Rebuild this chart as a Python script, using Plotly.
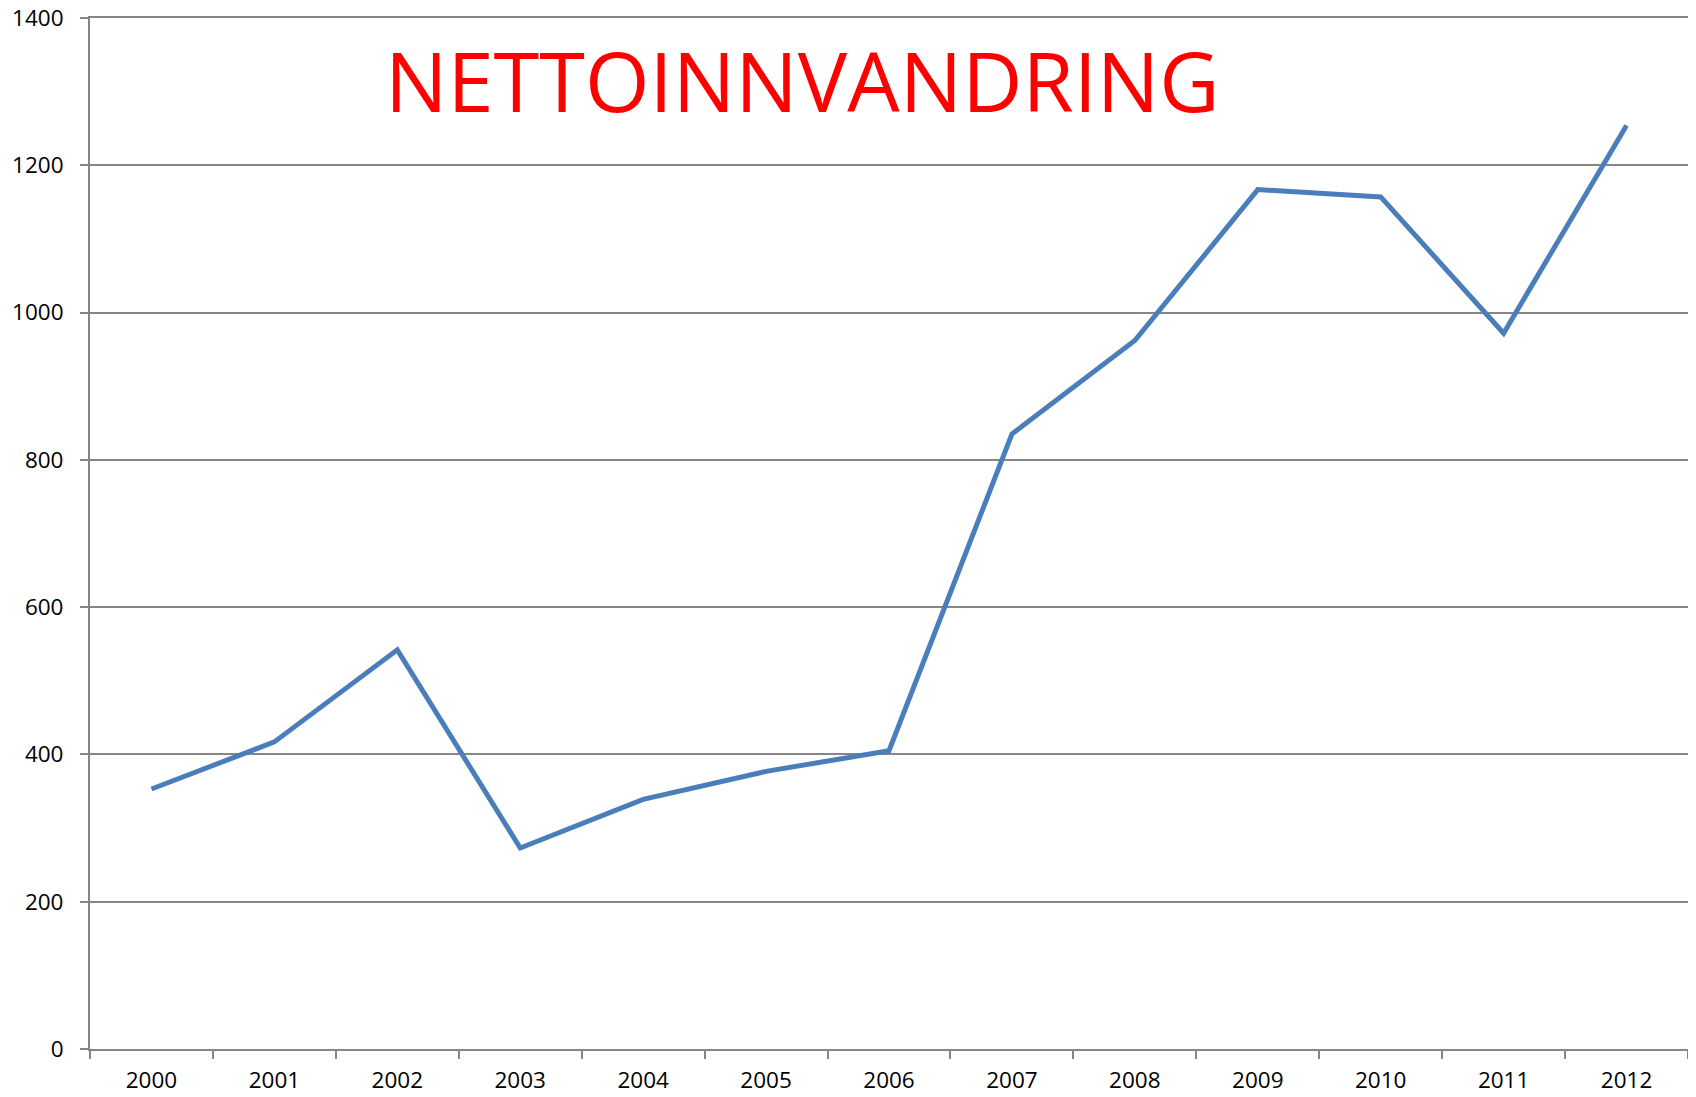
import plotly.graph_objects as go

years = ["2000", "2001", "2002", "2003", "2004", "2005", "2006",
         "2007", "2008", "2009", "2010", "2011", "2012"]
values = [353, 417, 542, 273, 339, 377, 405, 835, 962, 1167, 1157, 972, 1254]
y_ticks = [0, 200, 400, 600, 800, 1000, 1200, 1400]
title_text = "NETTOINNVANDRING"

# The page body has an 8px margin, so the figure is drawn at (8, 8).
OFF = 8
W, H = 1696 - 2 * OFF, 1097 - 2 * OFF
# plot area in page pixels: left 90, right 1688, top 18, bottom 1049
L = 90 - OFF
R = W - (1688 - OFF)
T = 18 - OFF
B = H - (1049 - OFF)

fig = go.Figure()
fig.add_trace(go.Scatter(
    x=years, y=values, mode="lines",
    line=dict(color="#4A7EBB", width=5),
    showlegend=False, hoverinfo="skip",
))

fig.update_layout(
    width=W, height=H,
    margin=dict(l=L, r=max(R, 0), t=T, b=B, pad=0, autoexpand=False),
    paper_bgcolor="white", plot_bgcolor="white",
    font=dict(family="Open Sans, Liberation Sans, sans-serif", size=22, color="black"),
)

pw = W - L - max(R, 0)
ph = H - T - B
fig.add_annotation(
    text=title_text, xref="paper", yref="paper",
    x=(802 - OFF - L) / pw, y=1 - (80 - OFF - T) / ph,
    xanchor="center", yanchor="middle", showarrow=False,
    font=dict(family="Open Sans, Liberation Sans, sans-serif", size=83, color="#FF0000"),
)

fig.update_xaxes(
    type="category", range=[-0.5, 12.5], automargin=False,
    showgrid=False, showline=True, linecolor="#868686", linewidth=1.5,
    mirror=True,
    ticks="outside", tickson="boundaries", ticklen=8, tickwidth=2, tickcolor="#868686",
    tickfont=dict(size=22.5), ticklabelstandoff=10, ticklabeloverflow="allow",
    zeroline=False,
)
fig.update_yaxes(
    range=[0, 1400], tickvals=y_ticks, ticktext=[str(v) for v in y_ticks],
    automargin=False,
    showgrid=True, gridcolor="#868686", gridwidth=1.5,
    showline=True, linecolor="#868686", linewidth=2,
    ticks="outside", ticklen=8, tickwidth=2, tickcolor="#868686",
    tickfont=dict(size=22.5), ticklabelstandoff=12, ticklabeloverflow="allow",
    zeroline=False,
)

fig.write_html("out.html")
